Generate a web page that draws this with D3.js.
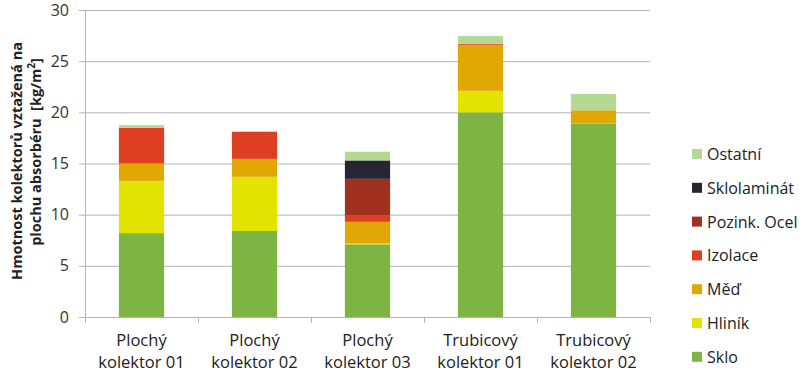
<!DOCTYPE html>
<html>
  <head>
    <meta charset="UTF-8">
    <script src="https://d3js.org/d3.v7.min.js"></script>
    <style>
      body{ margin: 0; background: #fff; }
      text{ font-family: "Open Sans", sans-serif; fill: #222; }
      .gridlines line{ stroke: #b3b3b3; }
      .gridlines .domain{ stroke: none; }
      .axis path, .axis line{ stroke: #b3b3b3; }
    </style>
  </head>
  <body>
    <svg id="chart" width="800" height="372"></svg>
    <script>
      const categories = [["Plochý", "kolektor 01"], ["Plochý", "kolektor 02"], ["Plochý", "kolektor 03"],
                          ["Trubicový", "kolektor 01"], ["Trubicový", "kolektor 02"]];
      const seriesNames = ["Sklo", "Hliník", "Měď", "Izolace", "Pozink. Ocel", "Sklolaminát", "Ostatní"];
      const sklo        = [8.2, 8.4, 7.1, 20.0, 18.9];
      const hlinik      = [5.1, 5.3, 0.1, 2.1, 0];
      const med         = [1.7, 1.75, 2.1, 4.5, 1.3];
      const izolace     = [3.5, 2.65, 0.6, 0.1, 0];
      const pozinkOcel  = [0, 0, 3.6, 0, 0];
      const sklolaminat = [0, 0, 1.8, 0, 0];
      const ostatni     = [0.25, 0.05, 0.85, 0.75, 1.6];
      const yTicks = [0, 5, 10, 15, 20, 25, 30];
      const colors = ["#7db443", "#e3e300", "#e1a805", "#de3f22", "#a0311f", "#262633", "#b5d993"];

      const svg = d3.select("svg#chart");
      const margin = {"top": 10, "left": 85};
      const chartWidth = 565;
      const chartHeight = 307;

      const allSeries = [sklo, hlinik, med, izolace, pozinkOcel, sklolaminat, ostatni];
      const table = categories.map((c, i) => {
        let row = {"cat": c.join(" ")};
        seriesNames.forEach((s, j) => { row[s] = allSeries[j][i]; });
        return row;
      });
      const stacked = d3.stack().keys(seriesNames)(table);

      const xScale = d3.scaleBand().domain(table.map(d => d.cat)).range([0, chartWidth]).paddingInner(0.6).paddingOuter(0.3);
      const xEdges = d3.scaleLinear().domain([0, categories.length]).range([0, chartWidth]);
      const yScale = d3.scaleLinear().domain([0, 30]).range([chartHeight, 0]);
      const colorScale = d3.scaleOrdinal().domain(seriesNames).range(colors);

      let chart = svg.append("g")
                     .attr("transform", "translate(" + margin.left + "," + margin.top + ")");

      // horizontal gridlines
      chart.append("g")
           .attr("class", "gridlines")
           .call(d3.axisLeft(yScale).tickValues(yTicks.slice(1)).tickFormat("").tickSize(-chartWidth));

      // bars
      stacked.forEach(layer => {
        chart.append("g")
             .attr("fill", colorScale(layer.key))
             .selectAll("rect")
             .data(layer)
             .join("rect")
             .attr("x", d => xScale(d.data.cat))
             .attr("width", xScale.bandwidth())
             .attr("y", d => yScale(d[1]))
             .attr("height", d => yScale(d[0]) - yScale(d[1]));
      });

      // left axis
      let leftAxis = chart.append("g")
           .attr("class", "axis")
           .call(d3.axisLeft(yScale).tickValues(yTicks).tickSize(6).tickPadding(10));
      leftAxis.selectAll("text").style("font-size", "16px").style("fill", "#333");

      // bottom axis with ticks at category boundaries
      let bottom = chart.append("g")
           .attr("class", "axis")
           .attr("transform", "translate(0," + chartHeight + ")");
      bottom.call(d3.axisBottom(xEdges).ticks(5).tickSize(6).tickFormat(""));

      categories.forEach((c, i) => {
        let cx = xScale(table[i].cat) + xScale.bandwidth() / 2;
        let t = chart.append("text")
             .attr("y", chartHeight + 29)
             .attr("text-anchor", "middle")
             .style("font-size", "16.5px");
        t.append("tspan").attr("x", cx).text(c[0]);
        t.append("tspan").attr("x", cx).attr("dy", 22).text(c[1]);
      });

      // y axis title
      let title = svg.append("text")
         .attr("transform", "rotate(-90)")
         .attr("text-anchor", "middle")
         .style("font-size", "14.5px")
         .style("font-weight", "bold")
         .style("white-space", "pre");
      title.append("tspan").attr("x", -161).attr("y", 22).text("Hmotnost kolektorů vztažená na");
      title.append("tspan").attr("x", -152).attr("y", 41).text("plochu absorbéru  [kg/m");
      title.append("tspan").attr("dy", -6).style("font-size", "10px").text("2");
      title.append("tspan").attr("dy", 6).text("]");

      // legend
      let legend = svg.append("g").attr("transform", "translate(692,0)");
      seriesNames.slice().reverse().forEach((s, i) => {
        let y = 154 + i * 33.8;
        legend.append("rect")
              .attr("x", 0).attr("y", y - 5)
              .attr("width", 10).attr("height", 10)
              .attr("fill", colorScale(s));
        legend.append("text")
              .attr("x", 15).attr("y", y)
              .attr("dominant-baseline", "central")
              .style("font-size", "16px")
              .text(s);
      });
    </script>
  </body>
</html>
